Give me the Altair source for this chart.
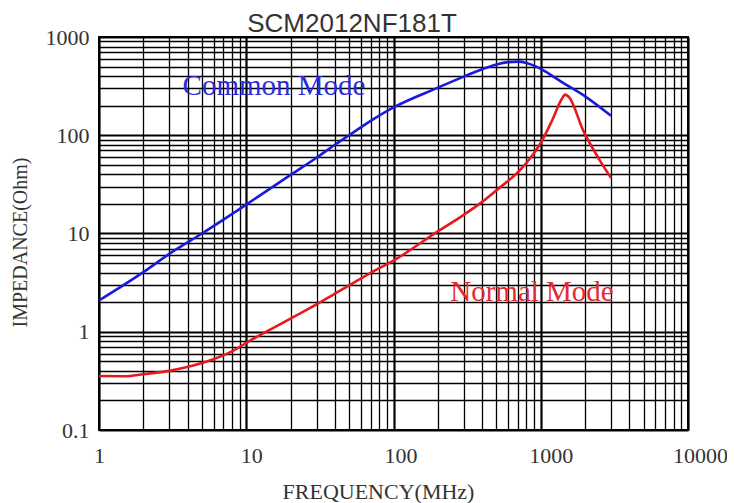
import altair as alt
import pandas as pd

# Common Mode impedance curve (MHz, Ohm)
cm_freq = [1, 2, 3, 5, 10, 20, 30, 40, 50, 70, 100, 200, 300, 400, 500, 600, 700, 800, 900, 1000, 1400, 2000, 3000]
cm_z = [2.08, 4.04, 6.2, 10.0, 19.7, 39.5, 59, 80, 100, 140, 192, 305, 395, 470, 525, 555, 562, 544, 511, 473, 345, 249, 158]

# Normal Mode impedance curve (MHz, Ohm)
nm_freq = [1, 1.5, 2, 3, 5, 8, 10, 20, 30, 40, 50, 70, 100, 200, 300, 400, 500, 630, 700, 886, 1000, 1200, 1380, 1466, 1570, 1930, 2500, 3000]
nm_z = [0.354, 0.352, 0.37, 0.40, 0.48, 0.63, 0.77, 1.36, 1.90, 2.44, 2.96, 3.98, 5.3, 10.5, 15.5, 21, 27.5, 36.5, 42, 63.6, 83.5, 144, 230, 259, 240, 114, 56.5, 36.8]

x_grid = [1, 2, 3, 4, 5, 6, 7, 8, 9,
          10, 20, 30, 40, 50, 60, 70, 80, 90,
          100, 200, 300, 400, 500, 600, 700, 800, 900,
          1000, 2000, 3000, 4000, 5000, 6000, 7000, 8000, 9000, 10000]
y_grid = [0.1, 0.2, 0.3, 0.4, 0.5, 0.6, 0.7, 0.8, 0.9,
          1, 2, 3, 4, 5, 6, 7, 8, 9,
          10, 20, 30, 40, 50, 60, 70, 80, 90,
          100, 200, 300, 400, 500, 600, 700, 800, 900, 1000]
x_labels = [1, 10, 100, 1000, 10000]
y_labels = [0.1, 1, 10, 100, 1000]

series = ["Common Mode", "Normal Mode"]
colors = ["#1a1adc", "#e8191e"]

df = pd.concat([
    pd.DataFrame({"freq": cm_freq, "z": cm_z, "mode": series[0]}),
    pd.DataFrame({"freq": nm_freq, "z": nm_z, "mode": series[1]}),
])

xl = "[" + ",".join(str(v) for v in x_labels) + "]"
yl = "[" + ",".join(str(v) for v in y_labels) + "]"

serif = "Liberation Serif"
txt = "#333333"

x_axis = alt.Axis(
    values=x_grid, grid=True, gridColor="black", gridOpacity=1,
    gridWidth={"condition": {"test": f"indexof({xl}, datum.value) >= 0", "value": 2.2}, "value": 1.3},
    ticks=False, domain=False,
    labelExpr=f"indexof({xl}, datum.value) >= 0 ? format(datum.value, '~g') : ''",
    labelFont=serif, labelFontSize=22, labelColor=txt, labelPadding=15,
    labelFlush=False, labelOverlap=False,
    labelOffset={"condition": [
        {"test": "datum.value == 10", "value": 5},
        {"test": "datum.value == 100", "value": 7},
        {"test": "datum.value == 1000", "value": 10},
        {"test": "datum.value == 10000", "value": 12},
    ], "value": 0},
    title="FREQUENCY(MHz)", titleFont=serif, titleFontSize=22, titleFontWeight="normal",
    titleColor=txt, titleX=279, titleY=68, titleAlign="center", titleBaseline="alphabetic",
)

y_axis = alt.Axis(
    values=y_grid, grid=True, gridColor="black", gridOpacity=1,
    gridWidth={"condition": {"test": f"indexof({yl}, datum.value) >= 0", "value": 2.2}, "value": 1.3},
    ticks=False, domain=False,
    labelExpr=f"indexof({yl}, datum.value) >= 0 ? format(datum.value, '~g') : ''",
    labelFont=serif, labelFontSize=22, labelColor=txt, labelPadding=10,
    labelOverlap=False, labelFlush=False,
    title="IMPEDANCE(Ohm)", titleFont=serif, titleFontSize=20, titleFontWeight="normal",
    titleColor=txt, titleAngle=270, titleX=-79, titleY=205, titleAlign="center", titleBaseline="middle",
)

lines = alt.Chart(df).mark_line(strokeWidth=2.6, interpolate="monotone").encode(
    x=alt.X("freq:Q", scale=alt.Scale(type="log", domain=[1, 10000], nice=False), axis=x_axis),
    y=alt.Y("z:Q", scale=alt.Scale(type="log", domain=[0.1, 1000], nice=False), axis=y_axis),
    color=alt.Color("mode:N", scale=alt.Scale(domain=series, range=colors), legend=None),
)

title_txt = alt.Chart(pd.DataFrame({"t": ["SCM2012NF181T"]})).mark_text(
    font="Liberation Sans", fontSize=26, color="#333333", align="center", baseline="alphabetic"
).encode(text="t:N", x=alt.value(253), y=alt.value(-5))

cm_txt = alt.Chart(pd.DataFrame({"t": [series[0]]})).mark_text(
    font=serif, fontSize=29, color="#2b2bdc", align="center", baseline="alphabetic"
).encode(text="t:N", x=alt.value(175), y=alt.value(58))

nm_txt = alt.Chart(pd.DataFrame({"t": [series[1]]})).mark_text(
    font=serif, fontSize=29, color="#e42a2f", align="center", baseline="alphabetic"
).encode(text="t:N", x=alt.value(433), y=alt.value(264))

chart = alt.layer(lines, title_txt, cm_txt, nm_txt).properties(
    width=589, height=393,
    autosize=alt.AutoSizeParams(type="none"),
    padding={"left": 91, "top": 29, "right": 39, "bottom": 80},
).configure_view(stroke="black", strokeWidth=2)

chart.save("out.html", embed_options={"renderer": "svg", "actions": False})
